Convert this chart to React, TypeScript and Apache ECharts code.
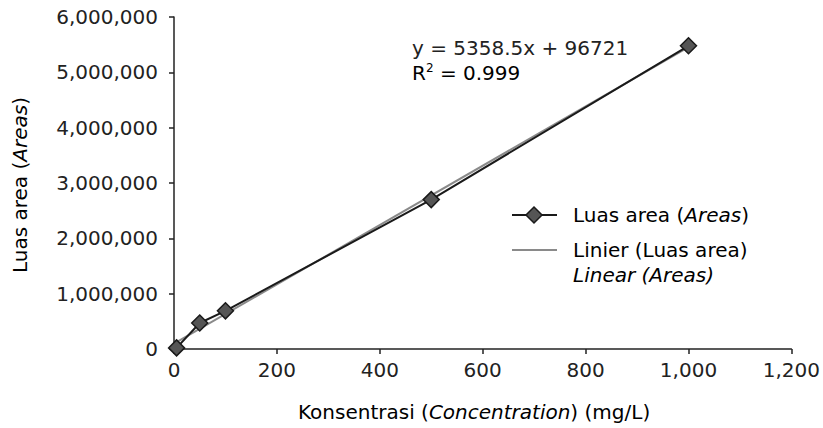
import React, { useEffect, useRef } from "react";
import * as echarts from "echarts";

const concentration = [5, 50, 100, 500, 1000];
const areas = [20000, 470000, 690000, 2700000, 5480000];
const slope = 5358.5;
const intercept = 96721;
const xTicks = [0, 200, 400, 600, 800, 1000, 1200];
const yTicks = [0, 1000000, 2000000, 3000000, 4000000, 5000000, 6000000];

const FONT = "DejaVu Sans";
const TXT = "#222";
const FS = 20;

function fmt(v: number): string {
  return String(Math.round(v)).replace(/\B(?=(\d{3})+(?!\d))/g, ",");
}

export default function App() {
  const ref = useRef<HTMLDivElement>(null);
  useEffect(() => {
    if (!ref.current) return;
    const chart = echarts.init(ref.current, undefined, { renderer: "svg" });
    const x0 = concentration[0];
    const x1 = concentration[concentration.length - 1];
    const trend = [
      [x0, slope * x0 + intercept],
      [x1, slope * x1 + intercept],
    ];
    const rich = {
      n: { fontFamily: FONT, fontSize: FS, color: TXT },
      i: { fontFamily: FONT, fontSize: FS, color: TXT, fontStyle: "italic" },
      s: { fontFamily: FONT, fontSize: 12, color: TXT, verticalAlign: "top", padding: [0, 0, 10, 0] },
    };
    chart.setOption({
      animation: false,
      backgroundColor: "#fff",
      grid: { left: 174, top: 17, right: 31, bottom: 79, containLabel: false },
      xAxis: {
        type: "value",
        min: xTicks[0],
        max: xTicks[xTicks.length - 1],
        interval: 200,
        splitLine: { show: false },
        axisLine: { lineStyle: { color: "#222", width: 1.5 } },
        axisTick: { show: true, length: 5, lineStyle: { color: "#222", width: 1.5 } },
        axisLabel: { fontFamily: FONT, fontSize: FS, color: TXT, margin: 11, formatter: (v: number) => fmt(v) },
      },
      yAxis: {
        type: "value",
        min: yTicks[0],
        max: yTicks[yTicks.length - 1],
        interval: 1000000,
        splitLine: { show: false },
        axisLine: { show: true, lineStyle: { color: "#222", width: 1.5 } },
        axisTick: { show: true, length: 5, lineStyle: { color: "#222", width: 1.5 } },
        axisLabel: { fontFamily: FONT, fontSize: FS, color: TXT, margin: 16, formatter: (v: number) => fmt(v) },
      },
      series: [
        {
          name: "Linier (Luas area)",
          type: "line",
          data: trend,
          symbol: "none",
          lineStyle: { color: "#8a8a8a", width: 2 },
          z: 2,
        },
        {
          name: "Luas area",
          type: "line",
          data: concentration.map((c, i) => [c, areas[i]]),
          symbol: "diamond",
          symbolSize: 16,
          itemStyle: { color: "#555", borderColor: "#1a1a1a", borderWidth: 1.5 },
          lineStyle: { color: "#1a1a1a", width: 2 },
          z: 3,
        },
      ],
      graphic: [
        {
          type: "text",
          x: 412,
          y: 48,
          style: { text: "y = 5358.5x + 96721", fontFamily: FONT, fontSize: FS, fill: TXT, verticalAlign: "middle" },
        },
        {
          type: "text",
          x: 412,
          y: 73,
          style: { text: "{n|R}{s|2}{n| = 0.999}", rich, verticalAlign: "middle" },
        },
        {
          type: "text",
          x: 20,
          y: 185,
          rotation: Math.PI / 2,
          style: { text: "{n|Luas area (}{i|Areas}{n|)}", rich, align: "center", verticalAlign: "middle" },
        },
        {
          type: "text",
          x: 298,
          y: 412,
          style: {
            text: "{n|Konsentrasi (}{i|Concentration}{n|) (mg/L)}",
            rich,
            align: "left",
            verticalAlign: "middle",
          },
        },
        // legend
        { type: "line", shape: { x1: 512, y1: 215, x2: 557, y2: 215 }, style: { stroke: "#1a1a1a", lineWidth: 2 } },
        {
          type: "polygon",
          shape: { points: [[534, 207], [542, 215], [534, 223], [526, 215]] },
          style: { fill: "#555", stroke: "#1a1a1a", lineWidth: 1.5 },
        },
        {
          type: "text",
          x: 573,
          y: 215,
          style: { text: "{n|Luas area (}{i|Areas}{n|)}", rich, verticalAlign: "middle" },
        },
        { type: "line", shape: { x1: 512, y1: 250, x2: 557, y2: 250 }, style: { stroke: "#8a8a8a", lineWidth: 2 } },
        {
          type: "text",
          x: 573,
          y: 250,
          style: { text: "{n|Linier (Luas area)}", rich, verticalAlign: "middle" },
        },
        {
          type: "text",
          x: 573,
          y: 275,
          style: { text: "{i|Linear (Areas)}", rich, verticalAlign: "middle" },
        },
      ],
    });
    return () => chart.dispose();
  }, []);
  return <div ref={ref} style={{ position: "fixed", left: 0, top: 0, width: 823, height: 428 }} />;
}
